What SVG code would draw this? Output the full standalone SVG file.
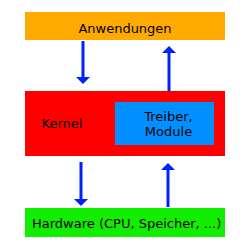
<svg xmlns="http://www.w3.org/2000/svg" width="250" height="250" viewBox="0 0 250 250">
<defs>
<style>
text{font-family:"DejaVu Sans",sans-serif;font-size:13px;fill:#000}
.c{stroke:#0022ff;stroke-width:3;fill:none}
.h{fill:#0022ff}
</style>
</defs>
<rect width="250" height="250" fill="#fff"/>
<g id="anwendungen"><rect x="25" y="12" width="200" height="28" fill="#ffaa00"/><text x="125" y="32.5" text-anchor="middle">Anwendungen</text></g>
<g id="kernel"><rect x="25" y="91" width="200" height="65" fill="#ff0000"/><text x="62" y="128.3" text-anchor="middle">Kernel</text></g>
<g id="treiber"><rect x="115" y="102" width="99" height="43" fill="#0090ff"/><text x="168.5" y="121" text-anchor="middle">Treiber,</text><text x="168.5" y="135.7" text-anchor="middle">Module</text></g>
<g id="hardware"><rect x="25" y="208" width="200" height="29" fill="#11ee00"/><text x="32" y="227.7">Hardware (CPU, Speicher, ...)</text></g>
<g id="connectors">
<path class="c" d="M83,41 V78"/><path class="h" d="M76,77 H90 L83,84 Z"/>
<path class="c" d="M169,91 V52"/><path class="h" d="M162,53 H176 L169,46 Z"/>
<path class="c" d="M81,162 V200"/><path class="h" d="M74,199 H88 L81,206 Z"/>
<path class="c" d="M168,207 V169"/><path class="h" d="M161,170 H175 L168,163 Z"/>
</g>
</svg>
